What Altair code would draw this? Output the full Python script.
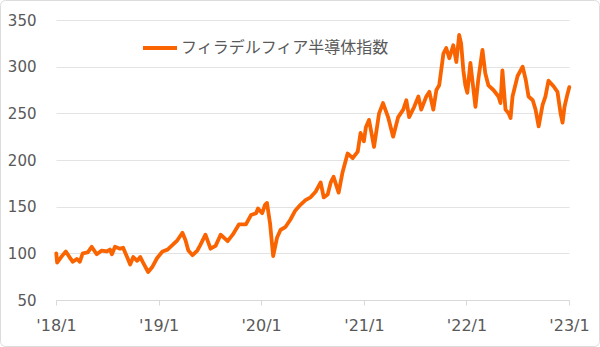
import altair as alt
import pandas as pd

SERIES = "フィラデルフィア半導体指数"

dates = [
    "2018-01-02", "2018-01-05", "2018-01-22", "2018-02-05", "2018-02-20", "2018-03-02",
    "2018-03-16", "2018-03-27", "2018-04-06", "2018-04-24", "2018-05-08", "2018-05-26",
    "2018-06-13", "2018-07-01", "2018-07-12", "2018-07-19", "2018-07-30", "2018-08-17",
    "2018-08-28", "2018-09-11", "2018-09-22", "2018-10-03", "2018-10-17", "2018-10-28",
    "2018-11-07", "2018-11-25", "2018-12-09", "2018-12-27",
    "2019-01-15", "2019-02-02", "2019-02-20", "2019-03-09", "2019-03-27", "2019-04-07",
    "2019-04-17", "2019-05-02", "2019-05-19", "2019-05-30", "2019-06-17", "2019-07-05",
    "2019-07-23", "2019-08-10", "2019-09-04", "2019-09-22", "2019-10-14", "2019-11-08",
    "2019-11-26", "2019-12-14", "2019-12-21",
    "2020-01-05", "2020-01-15", "2020-01-22", "2020-02-02", "2020-02-13", "2020-02-27",
    "2020-03-10", "2020-03-27", "2020-04-14", "2020-05-02", "2020-05-20", "2020-06-07",
    "2020-06-25", "2020-07-13", "2020-07-31", "2020-08-11", "2020-08-25", "2020-09-05",
    "2020-09-15", "2020-10-03", "2020-10-17", "2020-11-04", "2020-11-22", "2020-12-10",
    "2020-12-20",
    "2021-01-01", "2021-01-08", "2021-01-19", "2021-01-26", "2021-02-06", "2021-02-24",
    "2021-03-10", "2021-03-28", "2021-04-15", "2021-05-03", "2021-05-21", "2021-06-01",
    "2021-06-11", "2021-06-29", "2021-07-14", "2021-07-24", "2021-08-11", "2021-08-22",
    "2021-09-05", "2021-09-16", "2021-09-26", "2021-10-11", "2021-10-21", "2021-11-01",
    "2021-11-15", "2021-11-26", "2021-12-06", "2021-12-13", "2021-12-21", "2021-12-28",
    "2022-01-04", "2022-01-15", "2022-02-02", "2022-02-12", "2022-02-27", "2022-03-09",
    "2022-03-20", "2022-04-07", "2022-04-25", "2022-05-02", "2022-05-09", "2022-05-20",
    "2022-05-31", "2022-06-07", "2022-06-14", "2022-07-02", "2022-07-20", "2022-07-31",
    "2022-08-10", "2022-08-25", "2022-09-04", "2022-09-15", "2022-09-29", "2022-10-09",
    "2022-10-20", "2022-11-07", "2022-11-21", "2022-12-02", "2022-12-09", "2022-12-16",
    "2022-12-26", "2023-01-02",
]

values = [
    100, 90, 97, 102, 95, 91,
    94, 91, 100, 101, 107, 99,
    103, 102, 104, 99, 107, 105,
    106, 96, 88, 96, 92, 96,
    90, 80, 85, 95,
    102, 104, 109, 114, 122, 114,
    103, 98, 103, 109, 120, 105,
    108, 120, 113, 120, 131, 131,
    141, 143, 148,
    143, 152, 154, 132, 97, 117,
    125, 128, 136, 146, 152, 157,
    160, 166, 176, 160, 163, 176,
    182, 165, 187, 207, 202, 209,
    229,
    220, 235, 243, 232, 214, 250,
    261, 246, 225, 246, 254, 264,
    246, 257, 268, 254, 268, 273,
    254, 275, 280, 314, 320, 309,
    323, 305, 334, 325, 296, 280,
    272, 304, 257, 286, 318, 293,
    280, 275, 268, 261, 296, 254,
    250, 245, 268, 290, 300, 286,
    268, 264, 254, 236, 259, 268,
    285, 279, 273, 250, 240, 257,
    270, 278,
]

y_ticks = [50, 100, 150, 200, 250, 300, 350]
x_ticks = ["2018-01-01", "2019-01-01", "2020-01-01", "2021-01-01", "2022-01-01", "2023-01-01"]

df = pd.DataFrame({"date": dates, "value": values, "series": [SERIES] * len(dates)})

ORANGE = "#FA6400"
TEXT = "#595959"
W, H = 513, 280

line = alt.Chart(df).mark_line(strokeWidth=3.8, strokeJoin="round", strokeCap="round").encode(
    x=alt.X(
        "date:T",
        scale=alt.Scale(domain=[x_ticks[0], x_ticks[-1]]),
        axis=alt.Axis(
            values=x_ticks,
            labelExpr="\"'\" + timeFormat(datum.value, '%y') + '/1'",
            title=None,
            grid=False,
            domainColor="#d9d9d9",
            tickColor="#d9d9d9",
            tickSize=5,
            labelPadding=12,
            labelFontSize=16,
            labelColor=TEXT,
            labelFont="DejaVu Sans",
            labelAlign="center",
            labelFlush=False,
            labelOverlap=False,
        ),
    ),
    y=alt.Y(
        "value:Q",
        scale=alt.Scale(domain=[50, 350], nice=False),
        axis=alt.Axis(
            values=y_ticks,
            title=None,
            domain=False,
            ticks=False,
            gridColor="#e3e3e3",
            labelPadding=20,
            labelFontSize=15,
            labelColor=TEXT,
            labelFont="DejaVu Sans",
        ),
    ),
    color=alt.Color(
        "series:N",
        scale=alt.Scale(domain=[SERIES], range=[ORANGE]),
        legend=alt.Legend(
            title=None,
            orient="none",
            legendX=85,
            legendY=9,
            symbolType="stroke",
            symbolStrokeWidth=4,
            symbolSize=1156,
            labelOffset=2,
            labelFontSize=16,
            labelColor=TEXT,
            labelFont="Noto Sans CJK JP",
            labelLimit=0,
            padding=0,
        ),
    ),
)

frame = alt.Chart(alt.Data(values=[{}])).mark_rect(
    fill="transparent", stroke="#dcdcdc", strokeWidth=1, cornerRadius=5
).encode(
    x=alt.value(-55.5), x2=alt.value(W + 30.5), y=alt.value(-19.5), y2=alt.value(H + 46.5)
)

chart = alt.layer(frame, line).properties(
    width=W,
    height=H,
    autosize=alt.AutoSizeParams(type="none"),
    padding={"left": 56, "top": 20, "right": 31, "bottom": 47},
    background="white",
).configure_view(stroke=None)

chart.save("out.html", embed_options={"renderer": "svg", "actions": False})
